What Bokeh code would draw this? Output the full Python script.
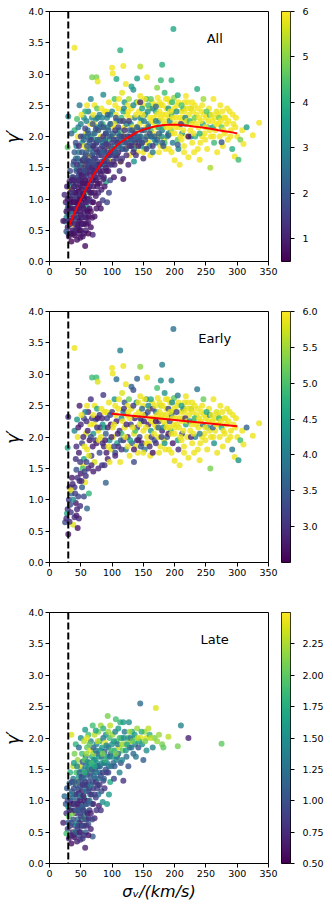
import numpy as np
from bokeh.plotting import figure
from bokeh.layouts import row, column
from bokeh.models import (Range1d, LinearColorMapper, FixedTicker, PrintfTickFormatter,
                          Label, Span, ColumnDataSource)
from bokeh.palettes import Viridis256
from bokeh.embed import file_html
from bokeh.resources import INLINE

# ---------------- data ----------------
early_x = [25, 29, 30, 31, 28, 32, 33, 36, 35, 38, 40, 42, 40, 44, 45, 47, 46, 48, 43, 50,
           52, 55, 58, 60, 63, 54, 57, 62, 38, 34,
           40, 42, 45, 47, 50, 48, 52, 55, 55, 58, 60, 62, 64, 65, 67, 68, 70, 72, 72, 74,
           75, 76, 78, 80, 80, 82, 84, 85, 86, 87, 88, 90, 90, 92, 93, 95, 96, 98, 98, 60,
           66, 53, 57, 70, 44,
           100, 102, 104, 105, 107, 108, 110, 112, 113, 115, 116, 118, 120, 120, 122, 124, 125, 127, 128, 130,
           131, 132, 134, 135, 136, 138, 139, 140, 141, 143, 144, 145, 147, 148, 150, 150, 152, 153, 155, 156,
           158, 160, 161, 162, 164, 165, 166, 168, 170, 171, 173, 174, 175, 177, 178, 180, 181, 183, 184, 185,
           187, 188, 190, 191, 193, 194, 196, 197, 198, 199, 200, 200, 105, 110, 118, 128, 135, 145, 155, 163,
           170, 176, 186, 192, 115, 125, 137, 148, 158, 168, 182, 195, 103, 142, 190,
           202, 204, 205, 207, 208, 210, 212, 213, 215, 216, 218, 220, 222, 223, 225, 226, 228, 230, 232, 233,
           235, 236, 238, 240, 241, 243, 245, 246, 248, 250, 252, 253, 255, 257, 258, 260, 262, 263, 265, 267,
           268, 270, 272, 273, 275, 277, 279, 280, 283, 285, 288, 290, 292, 294, 296, 298, 300, 302, 305, 308,
           310, 315, 325, 335, 218, 206, 226, 214, 256, 284, 244, 231,
           40, 198, 113, 180, 145, 100, 118, 68, 75, 77, 195, 178, 140, 156, 101, 107, 122, 131, 172, 205,
           30, 29, 88, 96, 78, 70]
early_y = [0.64, 0.85, 0.45, 1.0, 0.78, 1.2, 0.92, 1.35, 1.1, 0.6, 0.72, 0.95, 1.2, 0.85, 0.55, 0.7, 1.05, 1.3, 1.48, 1.42,
           1.2, 1.05, 1.38, 0.86, 1.1, 1.55, 1.28, 1.5, 1.0, 1.15,
           2.1, 1.65, 2.0, 1.75, 2.2, 2.5, 1.9, 1.65, 2.3, 2.05, 1.8, 2.4, 1.95, 2.2, 1.7, 2.3, 2.05, 1.6, 2.5, 2.28,
           1.9, 2.45, 2.1, 1.75, 2.35, 2.0, 1.55, 2.2, 2.67, 1.85, 2.4, 2.05, 1.27, 2.3, 1.65, 2.55, 1.95, 2.2, 1.8, 2.5,
           2.6, 1.5, 2.4, 2.35, 2.28,
           2.4, 2.0, 2.6, 1.75, 2.25, 1.9, 2.45, 2.1, 1.6, 2.3, 2.7, 1.95, 2.15, 2.55, 1.8, 2.35, 2.0, 2.6, 1.7, 2.2,
           2.45, 1.9, 2.75, 2.05, 2.3, 1.85, 2.55, 2.15, 1.75, 2.4, 2.0, 2.65, 2.25, 1.9, 2.5, 2.1, 1.8, 2.35, 2.6, 2.0,
           2.2, 2.45, 1.7, 2.1, 2.55, 1.75, 2.3, 1.95, 2.4, 2.15, 2.62, 2.0, 2.25, 1.85, 2.5, 2.1, 2.35, 1.95, 2.7, 2.2,
           2.45, 2.0, 2.3, 1.8, 2.55, 2.1, 2.4, 1.9, 2.2, 2.62, 1.62, 2.05, 2.5, 1.85, 2.4, 2.3, 1.6, 2.3, 1.9, 2.0,
           1.9, 2.4, 2.6, 2.25, 2.05, 2.5, 2.1, 2.45, 2.5, 2.2, 2.15, 2.35, 2.2, 1.95, 2.05,
           2.3, 2.5, 1.95, 2.15, 1.55, 2.4, 2.05, 2.3, 1.85, 2.55, 2.2, 2.0, 1.67, 2.35, 2.1, 2.45, 1.9, 2.25, 2.5, 2.0,
           2.35, 2.76, 2.15, 1.63, 1.9, 2.4, 2.2, 2.6, 2.05, 2.3, 1.8, 2.15, 2.45, 1.5, 2.0, 2.25, 2.6, 1.9, 2.1, 2.4,
           1.75, 2.2, 2.0, 2.5, 2.15, 1.85, 2.3, 2.05, 2.2, 1.95, 2.4, 2.1, 1.8, 2.2, 1.68, 2.3, 2.0, 1.63, 1.95, 2.1,
           1.88, 2.15, 2.02, 2.22, 2.65, 1.8, 2.0, 2.45, 2.35, 2.45, 2.0, 1.75,
           3.42, 3.72, 3.38, 3.15, 3.12, 3.1, 3.13, 2.95, 2.95, 2.88, 2.9, 2.9, 2.93, 2.95, 3.01, 2.92, 2.84, 2.8, 2.78, 2.66,
           2.32, 1.83, 1.55, 1.6, 1.5, 1.45]
early_c = [3.3, 3.0, 2.8, 3.1, 4.6, 2.9, 3.3, 2.8, 3.6, 5.8, 3.0, 2.7, 3.1, 2.9, 2.7, 2.9, 3.2, 3.0, 3.4, 2.8,
           3.5, 3.3, 3.0, 3.7, 4.8, 5.9, 5.9, 2.9, 4.2, 5.9,
           4.1, 3.0, 5.9, 2.8, 2.9, 2.8, 3.2, 4.5, 3.3, 5.8, 5.9, 2.9, 2.7, 5.9, 3.1, 3.0, 4.4, 5.8, 5.9, 3.2,
           2.8, 4.6, 5.9, 3.3, 3.0, 5.8, 3.0, 4.3, 3.1, 2.9, 5.9, 3.5, 3.6, 3.2, 2.8, 5.9, 4.2, 2.7, 5.8, 5.9,
           3.0, 5.0, 4.0, 5.9, 4.4,
           3.1, 5.9, 4.4, 3.3, 2.8, 4.6, 5.9, 3.0, 5.9, 4.2, 5.8, 2.9, 5.9, 3.4, 4.0, 5.9, 2.8, 5.2, 5.9, 3.2,
           5.9, 3.6, 3.3, 5.8, 2.8, 5.9, 4.3, 3.0, 5.9, 5.9, 3.3, 5.9, 4.6, 2.9, 5.9, 5.9, 3.8, 3.1, 4.1, 5.9,
           2.8, 5.9, 5.9, 4.4, 5.9, 2.7, 5.8, 3.4, 4.0, 5.9, 5.9, 5.9, 3.2, 5.9, 5.6, 2.9, 5.9, 5.9, 4.3, 5.9,
           5.9, 3.5, 5.9, 5.9, 5.9, 4.8, 5.9, 2.8, 5.9, 5.1, 5.9, 5.9, 5.9, 3.0, 3.9, 5.9, 3.3, 3.0, 5.9, 3.1,
           3.0, 5.9, 5.9, 3.3, 4.9, 5.9, 5.0, 3.7, 4.2, 5.9, 4.1, 3.9, 5.9, 2.7, 2.8,
           5.9, 5.9, 4.6, 5.9, 5.9, 5.9, 3.3, 5.9, 5.9, 5.9, 4.5, 5.9, 5.9, 5.9, 5.9, 4.8, 5.9, 5.9, 5.9, 4.1,
           5.9, 3.9, 5.9, 5.9, 5.9, 5.9, 3.8, 5.2, 5.9, 5.9, 5.9, 4.5, 5.9, 5.3, 5.9, 5.9, 5.9, 4.3, 5.9, 5.8,
           5.9, 5.9, 5.9, 5.9, 4.7, 5.9, 5.9, 5.9, 5.9, 5.9, 5.9, 5.9, 3.9, 5.9, 5.9, 5.9, 5.9, 4.3, 4.9, 5.9,
           5.9, 3.6, 5.9, 5.9, 5.9, 3.0, 2.9, 4.0, 4.2, 5.9, 5.9, 5.9,
           5.9, 3.8, 4.0, 4.0, 5.4, 5.9, 5.9, 4.9, 4.9, 5.8, 4.1, 4.2, 3.6, 5.9, 5.9, 3.8, 5.9, 3.6, 5.0, 3.9,
           3.0, 4.6, 3.1, 5.9, 2.9, 2.8]

early_more_x = [101, 103, 106, 109, 111, 114, 117, 119, 121, 123,
                126, 129, 133, 134, 138, 140, 142, 144, 146, 149,
                151, 152, 154, 157, 159, 160, 162, 163, 165, 167,
                169, 170, 172, 174, 176, 178, 179, 181, 182, 184,
                186, 187, 189, 190, 192, 193, 195, 196, 197, 199,
                201, 203, 204, 206, 208, 209, 211, 212, 214, 215,
                217, 219, 220, 221, 224, 225, 227, 229, 230, 232,
                234, 237, 239, 240, 242, 244, 247, 249, 251, 254,
                256, 259, 261, 264, 266, 269, 271, 274, 276, 278,
                281, 286, 289, 293, 297, 237, 249, 262, 228, 211,
                43, 46, 49, 51, 54, 56, 59, 61, 63, 66,
                69, 71, 73, 77, 79, 81, 83, 85, 87, 89,
                91, 93, 94, 97, 99, 91, 84, 76, 67, 59,
                27, 32, 34, 37, 41, 43, 49, 51, 56, 45,
                105, 115, 125, 135, 150, 160, 175, 185, 195, 215]
early_more_y = [2.15, 1.85, 2.35, 2.05, 2.6, 1.95, 2.25, 2.45, 2.0, 2.2,
                2.4, 1.95, 2.15, 2.5, 2.35, 1.95, 2.55, 2.2, 1.85, 2.35,
                2.25, 2.6, 2.15, 2.4, 1.9, 2.3, 2.6, 2.25, 2.45, 2.05,
                2.5, 2.25, 2.35, 2.15, 2.55, 2.3, 2.0, 2.5, 2.25, 1.9,
                2.35, 2.15, 2.6, 2.45, 2.15, 2.4, 2.05, 2.55, 2.3, 2.45,
                2.15, 2.4, 2.2, 2.55, 2.3, 2.0, 2.5, 2.25, 2.1, 2.4,
                2.3, 2.45, 2.25, 2.55, 2.25, 2.45, 2.2, 2.4, 2.05, 2.3,
                2.2, 2.45, 2.3, 2.05, 2.25, 2.5, 2.35, 2.15, 2.4, 2.25,
                2.1, 2.35, 2.15, 2.3, 2.2, 2.35, 2.3, 2.25, 2.4, 2.1,
                2.3, 2.25, 2.0, 2.35, 2.15, 1.8, 1.95, 2.0, 2.55, 1.95,
                1.85, 2.15, 1.6, 2.35, 2.0, 1.85, 2.25, 2.1, 1.7, 2.0,
                1.85, 2.2, 1.95, 2.3, 1.95, 2.15, 2.45, 1.9, 2.15, 1.95,
                2.4, 2.15, 1.85, 2.35, 2.0, 1.75, 2.3, 2.15, 1.55, 1.6,
                0.7, 0.65, 0.8, 1.25, 1.1, 0.75, 0.9, 1.3, 1.45, 1.35,
                1.7, 1.8, 1.85, 1.8, 1.75, 1.85, 1.75, 1.8, 1.75, 1.75]
early_more_c = [5.9, 3.2, 5.9, 2.8, 5.9, 3.5, 5.9, 3.0, 5.9, 2.9,
                5.9, 4.5, 5.9, 3.1, 5.9, 3.0, 5.9, 5.9, 3.4, 5.9,
                2.9, 5.9, 5.9, 3.3, 5.9, 5.9, 4.6, 5.9, 3.1, 5.9,
                5.9, 2.8, 5.9, 3.7, 5.9, 5.9, 3.2, 5.9, 5.9, 4.4,
                5.9, 5.9, 5.9, 3.3, 5.9, 5.9, 5.9, 4.2, 5.9, 5.9,
                5.9, 3.2, 5.9, 5.9, 5.9, 5.9, 4.5, 5.9, 5.9, 5.9,
                3.0, 5.9, 5.9, 5.9, 4.2, 5.9, 5.9, 5.9, 5.9, 4.8,
                5.9, 5.9, 5.9, 4.0, 5.9, 5.9, 5.9, 5.9, 4.6, 5.9,
                5.9, 5.9, 3.6, 5.9, 5.9, 5.9, 4.9, 5.9, 5.9, 5.9,
                5.9, 5.9, 5.9, 5.9, 5.9, 5.9, 5.9, 5.9, 5.9, 5.9,
                3.0, 2.8, 3.1, 5.9, 2.9, 5.9, 3.0, 2.8, 5.8, 3.3,
                2.8, 5.9, 3.0, 2.8, 5.9, 3.1, 5.9, 3.0, 4.6, 2.8,
                5.9, 2.9, 5.9, 3.2, 2.9, 2.8, 2.9, 3.1, 2.9, 3.2,
                3.0, 2.9, 3.1, 2.9, 3.2, 2.8, 3.0, 2.9, 3.2, 3.0,
                2.9, 3.1, 5.9, 2.8, 5.9, 3.0, 5.9, 5.9, 5.9, 5.9]

late_x = [22, 24, 26, 27, 28, 29, 30, 31, 31, 32, 33, 34, 35, 35, 36, 37, 38, 38, 39, 40,
          40, 41, 42, 42, 43, 44, 44, 45, 45, 46, 46, 47, 47, 48, 48, 49, 50, 50, 51, 51,
          52, 52, 53, 53, 54, 55, 55, 56, 56, 57, 57, 58, 58, 59, 60, 60, 61, 62, 63, 64,
          65, 65, 66, 67, 68, 69, 70, 70, 72, 73, 74, 75, 76, 77, 79, 80, 82, 83, 85, 86,
          36, 33, 43, 49, 54, 59, 62, 41, 37, 27,
          35, 38, 40, 42, 45, 47, 48, 50, 52, 53, 55, 57, 58, 60, 62, 63, 65, 66, 68, 69,
          70, 72, 73, 75, 76, 78, 79, 80, 82, 83, 84, 86, 87, 88, 89, 90, 91, 92, 93, 94,
          95, 96, 97, 98, 100, 101, 102, 104, 105, 107, 108, 110, 111, 113, 114, 115, 117, 118, 120, 121,
          123, 125, 127, 128, 130, 132, 134, 135, 137, 140, 142, 145, 146, 148, 150, 152, 155, 158, 160, 165,
          168, 170, 172, 180, 182, 190, 205, 210, 222, 275, 138, 126, 112, 103, 95, 88, 92, 78, 64, 56,
          44, 39, 60, 74, 86, 97, 106, 118, 128, 155]
late_y = [0.65, 1.07, 0.95, 0.8, 1.2, 0.55, 0.9, 0.4, 0.75, 1.28, 0.6, 1.0, 0.32, 0.85, 1.15, 0.5, 0.7, 1.35, 0.95, 0.42,
          1.1, 0.6, 0.8, 1.25, 1.45, 0.35, 1.0, 0.55, 0.7, 1.18, 0.9, 1.38, 0.45, 0.65, 1.05, 0.8, 1.3, 0.5, 0.95, 1.5,
          0.7, 1.15, 0.4, 0.88, 1.4, 0.6, 1.05, 1.25, 0.78, 0.25, 1.55, 0.5, 0.95, 1.2, 0.7, 1.42, 1.0, 0.62, 1.3, 0.85,
          1.6, 1.1, 0.55, 1.45, 0.95, 0.43, 1.2, 1.55, 0.72, 1.35, 1.05, 0.85, 1.6, 1.25, 0.92, 1.45, 0.85, 1.15, 0.98, 1.32,
          0.95, 1.45, 0.62, 0.38, 0.72, 0.82, 0.45, 0.5, 0.8, 0.48,
          2.05, 1.55, 1.75, 1.9, 1.65, 1.85, 1.55, 2.0, 1.75, 1.62, 1.95, 2.13, 1.7, 1.85, 2.05, 1.6, 1.8, 1.95, 1.7, 2.2,
          1.85, 2.05, 1.65, 1.9, 1.75, 2.1, 1.55, 1.95, 2.2, 1.7, 1.85, 2.0, 1.6, 1.78, 1.92, 2.05, 1.45, 1.7, 2.35, 1.85,
          1.55, 2.0, 1.3, 1.75, 1.9, 2.05, 1.6, 1.8, 2.1, 1.95, 1.7, 2.15, 1.85, 2.25, 1.6, 2.0, 1.8, 1.32, 2.1, 1.9,
          1.7, 2.0, 2.25, 1.85, 1.95, 2.1, 1.75, 2.0, 1.9, 2.15, 1.85, 2.55, 2.0, 1.9, 1.65, 2.1, 2.0, 2.15, 2.05, 1.85,
          2.0, 2.48, 1.95, 1.9, 1.85, 2.02, 1.87, 2.2, 2.0, 1.91, 1.7, 1.55, 1.45, 1.35, 1.1, 1.2, 0.95, 1.1, 1.5, 1.65,
          1.3, 1.6, 2.0, 2.12, 2.15, 2.2, 2.3, 2.25, 2.1, 1.8]
late_c = [0.7, 1.2, 1.0, 0.8, 1.1, 0.9, 1.6, 0.7, 2.0, 1.2, 0.8, 0.9, 0.6, 1.4, 1.0, 0.7, 1.0, 1.3, 0.8, 0.6,
          1.5, 0.9, 0.7, 1.1, 1.9, 0.7, 1.0, 0.8, 1.2, 0.9, 0.6, 1.6, 1.0, 0.7, 1.3, 0.9, 0.8, 1.1, 1.0, 1.4,
          0.8, 0.7, 0.9, 1.2, 1.0, 0.7, 1.6, 0.9, 1.0, 0.7, 1.3, 1.1, 0.8, 1.5, 0.9, 1.2, 0.7, 1.0, 0.9, 0.8,
          1.7, 1.1, 0.7, 1.0, 1.3, 1.1, 0.8, 1.5, 0.7, 1.2, 0.9, 0.8, 1.6, 1.0, 0.7, 1.4, 0.8, 1.0, 1.5, 0.9,
          0.6, 1.8, 1.5, 0.8, 1.9, 1.3, 0.6, 1.8, 2.1, 1.9,
          2.4, 2.3, 2.1, 1.8, 2.2, 1.2, 2.4, 1.5, 1.9, 1.0, 2.3, 1.6, 1.3, 2.0, 1.9, 1.1, 2.4, 1.4, 1.7, 1.9,
          1.1, 2.3, 1.6, 1.4, 0.9, 2.1, 1.2, 1.8, 2.2, 1.0, 1.6, 1.3, 2.0, 1.1, 2.4, 1.5, 0.8, 1.6, 2.1, 1.2,
          1.3, 1.9, 1.7, 1.0, 1.5, 2.2, 1.2, 1.7, 1.4, 2.0, 1.1, 1.6, 2.3, 1.8, 1.0, 1.5, 2.0, 0.8, 1.3, 2.3,
          1.2, 1.9, 1.5, 1.1, 2.4, 1.7, 1.2, 2.0, 1.4, 2.2, 1.0, 1.2, 2.4, 1.5, 1.1, 2.2, 2.4, 2.3, 1.8, 1.4,
          2.1, 2.4, 2.2, 2.1, 2.0, 2.3, 2.1, 1.4, 0.7, 2.0, 1.3, 1.0, 1.4, 0.9, 1.6, 0.8, 1.6, 1.2, 2.2, 2.0,
          2.3, 1.6, 2.4, 1.7, 1.8, 2.3, 1.9, 1.6, 2.2, 1.5]

late_more_x = [29, 30, 32, 33, 34, 35, 36, 37, 38, 39,
               40, 40, 41, 42, 43, 44, 44, 45, 46, 46,
               47, 47, 48, 48, 49, 49, 50, 50, 51, 51,
               52, 53, 53, 54, 54, 55, 55, 56, 57, 57,
               58, 58, 59, 60, 60, 61, 61, 62, 63, 63,
               64, 64, 65, 66, 66, 67, 68, 68, 69, 70,
               71, 71, 72, 73, 74, 75, 76, 77, 78, 79,
               80, 81, 82, 84, 85, 87, 88, 90, 92, 94,
               96, 99, 101, 104, 107, 110, 116, 122, 131, 143,
               56, 59, 61, 64, 67, 70, 72, 74, 77, 81,
               85, 89, 91, 94, 99, 103, 106, 109, 112, 116,
               119, 124, 129, 133, 136, 141, 147, 153, 162, 175]
late_more_y = [1.0, 0.65, 0.85, 1.1, 0.45, 0.65, 1.3, 1.05, 0.45, 1.2,
               0.85, 1.3, 0.95, 0.5, 1.1, 0.85, 1.55, 0.95, 0.6, 1.3,
               0.85, 1.12, 0.5, 1.45, 1.0, 1.22, 0.75, 1.08, 0.6, 1.38,
               0.9, 1.25, 0.6, 1.08, 0.85, 1.35, 0.45, 1.0, 0.7, 1.3,
               1.15, 1.45, 0.6, 0.95, 1.25, 1.5, 0.8, 1.15, 1.55, 0.72,
               1.2, 1.0, 1.38, 0.8, 1.25, 1.1, 1.5, 0.7, 1.3, 0.95,
               1.4, 1.65, 1.1, 1.5, 1.3, 1.45, 1.2, 1.55, 1.35, 1.7,
               1.25, 1.55, 1.4, 1.6, 1.45, 1.35, 1.6, 1.5, 1.6, 1.45,
               1.7, 1.55, 1.7, 1.55, 1.65, 1.75, 1.65, 1.8, 1.85, 1.95,
               1.45, 1.75, 1.62, 1.9, 1.6, 1.75, 1.55, 1.8, 1.95, 1.8,
               1.75, 1.65, 1.88, 2.1, 1.8, 1.95, 1.75, 1.9, 2.0, 1.9,
               2.0, 1.9, 2.0, 1.95, 2.05, 2.0, 2.1, 1.95, 2.0, 2.05]
late_more_c = [0.9, 1.1, 0.7, 1.3, 0.8, 1.0, 0.9, 1.2, 0.7, 1.0,
               0.7, 1.1, 0.9, 1.0, 0.8, 1.2, 1.4, 0.7, 0.9, 1.1,
               1.0, 0.8, 0.7, 1.2, 0.7, 1.0, 0.9, 1.3, 0.7, 0.9,
               1.1, 0.8, 1.0, 0.7, 0.9, 1.2, 0.8, 0.7, 1.0, 0.9,
               1.2, 1.0, 0.8, 1.1, 0.8, 1.3, 0.7, 1.0, 1.6, 0.8,
               0.9, 1.2, 1.0, 0.7, 1.3, 0.8, 1.1, 0.9, 1.0, 0.7,
               1.2, 1.5, 0.9, 1.0, 0.8, 1.3, 0.9, 1.0, 1.2, 1.6,
               0.8, 1.2, 1.0, 1.5, 0.9, 1.1, 1.3, 1.0, 1.4, 0.9,
               1.2, 1.3, 1.5, 1.1, 1.4, 1.2, 1.4, 1.6, 1.3, 1.7,
               1.8, 2.2, 1.5, 2.0, 1.9, 2.2, 1.7, 1.3, 2.3, 1.5,
               2.1, 1.8, 1.4, 2.2, 1.9, 1.6, 2.1, 1.3, 1.9, 2.2,
               1.5, 1.7, 1.3, 2.0, 1.6, 2.3, 1.8, 2.1, 2.3, 2.2]

e_x = early_x + early_more_x
e_y = early_y + early_more_y
e_c = early_c + early_more_c
l_x = late_x + late_more_x
l_y = late_y + late_more_y
l_c = late_c + late_more_c
all_x = e_x + l_x
all_y = e_y + l_y
all_c = e_c + l_c

# fitted curves
fit_all_x = [30, 40, 50, 60, 70, 80, 90, 100, 110, 120, 130, 140, 150, 160, 170, 180, 190, 200,
             210, 220, 230, 240, 250, 260, 270, 280, 290, 300]
fit_all_y = [0.54, 0.78, 0.99, 1.19, 1.38, 1.53, 1.67, 1.78, 1.88, 1.95, 2.01, 2.07, 2.11, 2.14,
             2.165, 2.18, 2.19, 2.19, 2.185, 2.175, 2.16, 2.15, 2.135, 2.12, 2.10, 2.085, 2.07, 2.05]
fit_early_x = [100, 300]
fit_early_y = [2.37, 2.17]

sigma_cut = 30
x_ticks = [0, 50, 100, 150, 200, 250, 300, 350]
y_ticks = [0.0, 0.5, 1.0, 1.5, 2.0, 2.5, 3.0, 3.5, 4.0]
cb_all_ticks = [1, 2, 3, 4, 5, 6]
cb_early_ticks = [3.0, 3.5, 4.0, 4.5, 5.0, 5.5, 6.0]
cb_late_ticks = [0.5, 0.75, 1.0, 1.25, 1.5, 1.75, 2.0, 2.25]

FONT = "DejaVu Sans"
TICK_FS = "9.5px"


def style_axis(ax, standoff=2):
    ax.axis_line_color = "black"
    ax.axis_line_width = 1
    ax.major_tick_line_color = "black"
    ax.major_tick_out = 4
    ax.major_tick_in = 0
    ax.minor_tick_line_color = None
    ax.major_label_text_font = FONT
    ax.major_label_text_font_size = TICK_FS
    ax.major_label_text_color = "black"
    ax.major_label_standoff = standoff
    ax.axis_label_text_color = "black"


def panel(xs, ys, cs, low, high, cb_ticks, cb_fmt, name, fit_x, fit_y,
          top, bottom, fh, xlabel):
    mapper = LinearColorMapper(palette=Viridis256, low=low, high=high)
    p = figure(frame_width=219, frame_height=fh,
               x_range=Range1d(0, 350), y_range=Range1d(0, 4),
               output_backend="svg", toolbar_location=None,
               min_border_left=43, min_border_right=13,
               min_border_top=top, min_border_bottom=bottom)
    p.grid.visible = False
    p.outline_line_color = "black"
    p.outline_line_alpha = 1
    p.outline_line_width = 1
    p.background_fill_color = "white"
    p.border_fill_color = "white"
    style_axis(p.xaxis[0])
    style_axis(p.yaxis[0])
    p.xaxis.ticker = FixedTicker(ticks=x_ticks)
    p.yaxis.ticker = FixedTicker(ticks=y_ticks)
    p.yaxis.formatter = PrintfTickFormatter(format="%.1f")
    p.yaxis.axis_label = "γ′"
    p.yaxis.axis_label_text_font = FONT
    p.yaxis.axis_label_text_font_style = "italic"
    p.yaxis.axis_label_text_font_size = "17px"
    p.yaxis.axis_label_standoff = 2
    if xlabel:
        p.xaxis.axis_label = "σᵥ/(km/s)"
        p.xaxis.axis_label_text_font = FONT
        p.xaxis.axis_label_text_font_style = "italic"
        p.xaxis.axis_label_text_font_size = "16px"
        p.xaxis.axis_label_standoff = 2

    src = ColumnDataSource(dict(x=xs, y=ys, c=cs))
    p.scatter("x", "y", source=src, size=6,
              fill_color={"field": "c", "transform": mapper},
              line_color=None, fill_alpha=0.8)
    if fit_x is not None:
        p.line(fit_x, fit_y, line_color="red", line_width=2)
    p.add_layout(Span(location=sigma_cut, dimension="height", line_color="black",
                      line_dash="7 3", line_width=2))
    p.add_layout(Label(x=264, y=3.57, text=name, text_align="center",
                       text_baseline="middle", text_font=FONT,
                       text_font_size="13px", text_color="black"))

    cb = figure(frame_width=9, frame_height=fh,
                x_range=Range1d(0, 1), y_range=Range1d(low, high),
                x_axis_location=None, y_axis_location="right",
                output_backend="svg", toolbar_location=None,
                min_border_left=0, min_border_right=36,
                min_border_top=top, min_border_bottom=bottom)
    cb.grid.visible = False
    cb.outline_line_color = "black"
    cb.outline_line_alpha = 1
    cb.outline_line_width = 1
    grad = np.linspace(low, high, 256).reshape(256, 1)
    cb.image(image=[grad], x=0, y=low, dw=1, dh=high - low, color_mapper=mapper)
    style_axis(cb.yaxis[0], standoff=8)
    cb.yaxis.axis_line_color = None
    cb.yaxis.ticker = FixedTicker(ticks=cb_ticks)
    cb.yaxis.formatter = PrintfTickFormatter(format=cb_fmt)
    return row(p, cb)


r1 = panel(all_x, all_y, all_c, 0.5, 6.0, cb_all_ticks, "%d", "All",
           fit_all_x, fit_all_y, 11, 36, 250, False)
r2 = panel(e_x, e_y, e_c, 2.5, 6.0, cb_early_ticks, "%.1f", "Early",
           fit_early_x, fit_early_y, 14, 36, 251, False)
r3 = panel(l_x, l_y, l_c, 0.5, 2.5, cb_late_ticks, "%.2f", "Late",
           None, None, 14, 35, 251, True)

layout = column(r1, r2, r3)
open("out.html", "w").write(file_html(layout, INLINE))
